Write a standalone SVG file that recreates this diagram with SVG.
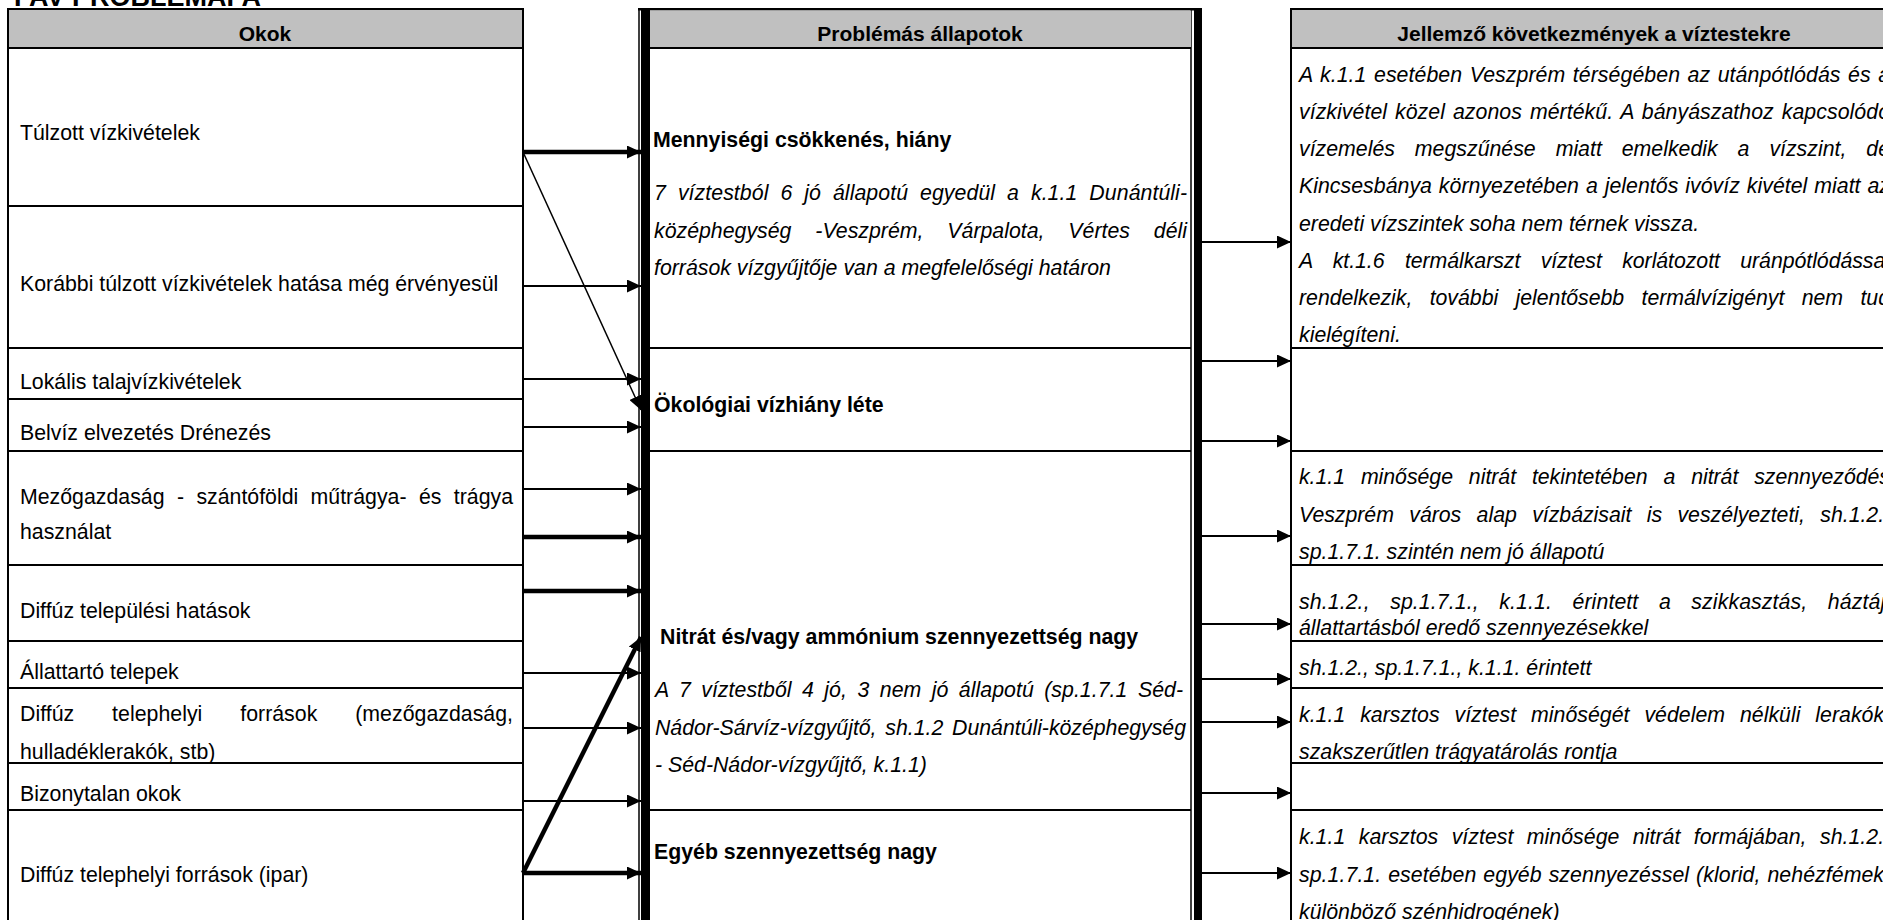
<svg xmlns="http://www.w3.org/2000/svg" width="1883" height="920" viewBox="0 0 1883 920">
<style>
.t{font-family:"Liberation Sans",Arial,sans-serif;font-size:21.3px;fill:#000}
.b{font-weight:bold}
.i{font-style:italic}
.h{font-weight:bold;text-anchor:middle;font-size:21px}
.cell{fill:none;stroke:#000;stroke-width:2}
.hdr{fill:#c0c0c0;stroke:#000;stroke-width:2}
.thin{stroke:#000;stroke-width:2;fill:none}
.thick{stroke:#000;stroke-width:4.5;fill:none}
.hair{stroke:#000;stroke-width:1.5;fill:none}
</style>
<defs>
<marker id="ah" markerUnits="userSpaceOnUse" markerWidth="14" markerHeight="13" viewBox="0 0 14 13" refX="14" refY="6.5" orient="auto">
<path d="M0,0 L14,6.5 L0,13 z" fill="#000"/>
</marker>
</defs>
<rect width="1883" height="920" fill="#fff"/>
<text class="t b" x="14" y="6" style="font-size:27px">FAV PROBLÉMAFA</text>

<!-- Left column: causes -->
<g id="causes-header">
<rect class="hdr" x="8" y="9" width="515" height="39"/>
<text class="t h" x="265" y="41">Okok</text>
</g>
<g id="c1"><rect class="cell" x="8" y="48" width="515" height="158"/><text class="t" x="20" y="140">Túlzott vízkivételek</text></g>
<g id="c2"><rect class="cell" x="8" y="206" width="515" height="142"/><text class="t" x="20" y="291">Korábbi túlzott vízkivételek hatása még érvényesül</text></g>
<g id="c3"><rect class="cell" x="8" y="348" width="515" height="51"/><text class="t" x="20" y="389">Lokális talajvízkivételek</text></g>
<g id="c4"><rect class="cell" x="8" y="399" width="515" height="52"/><text class="t" x="20" y="440">Belvíz elvezetés Drénezés</text></g>
<g id="c5"><rect class="cell" x="8" y="451" width="515" height="114"/>
<text class="t" x="20" y="504" textLength="493" lengthAdjust="spacing" style="word-spacing:6.5px">Mezőgazdaság - szántóföldi műtrágya- és trágya</text>
<text class="t" x="20" y="539">használat</text></g>
<g id="c6"><rect class="cell" x="8" y="565" width="515" height="76"/><text class="t" x="20" y="618">Diffúz települési hatások</text></g>
<g id="c7"><rect class="cell" x="8" y="641" width="515" height="47"/><text class="t" x="20" y="679">Állattartó telepek</text></g>
<g id="c8"><rect class="cell" x="8" y="688" width="515" height="75"/>
<text class="t" x="20" y="721" textLength="493" lengthAdjust="spacing" style="word-spacing:32px">Diffúz telephelyi források (mezőgazdaság,</text>
<text class="t" x="20" y="759">hulladéklerakók, stb)</text></g>
<g id="c9"><rect class="cell" x="8" y="763" width="515" height="47"/><text class="t" x="20" y="801">Bizonytalan okok</text></g>
<g id="c10"><rect class="cell" x="8" y="810" width="515" height="130"/><text class="t" x="20" y="882">Diffúz telephelyi források (ipar)</text></g>

<!-- Center column: problem states -->
<g id="states-frame">
<line class="hair" x1="639" y1="8" x2="639" y2="920"/>
<rect x="641" y="8" width="9" height="912" fill="#000"/>
<line class="hair" x1="1191" y1="8" x2="1191" y2="920"/>
<rect x="1194" y="8" width="8" height="912" fill="#000"/>
<line x1="638" y1="9.2" x2="1202" y2="9.2" stroke="#000" stroke-width="2.5"/>
</g>
<g id="states-header">
<rect x="650" y="10.5" width="541" height="37" fill="#c0c0c0"/>
<line class="thin" x1="650" y1="48" x2="1191" y2="48"/>
<text class="t h" x="920" y="41">Problémás állapotok</text>
</g>
<g id="s1">
<text class="t b" x="653" y="147">Mennyiségi csökkenés, hiány</text>
<text class="t i" x="654" y="200" textLength="533" lengthAdjust="spacing" style="word-spacing:6px">7 víztestból 6 jó állapotú egyedül a k.1.1 Dunántúli-</text>
<text class="t i" x="654" y="238" textLength="533" lengthAdjust="spacing" style="word-spacing:18px">középhegység -Veszprém, Várpalota, Vértes déli</text>
<text class="t i" x="654" y="275">források vízgyűjtője van a megfelelőségi határon</text>
<line class="thin" x1="650" y1="348" x2="1191" y2="348"/>
</g>
<g id="s2">
<text class="t b" x="654" y="412">Ökológiai vízhiány léte</text>
<line class="thin" x1="650" y1="451" x2="1191" y2="451"/>
</g>
<g id="s3">
<text class="t b" x="660" y="644">Nitrát és/vagy ammónium szennyezettség nagy</text>
<text class="t i" x="655" y="697" textLength="528" lengthAdjust="spacing" style="word-spacing:4.5px">A 7 víztestből 4 jó, 3 nem jó állapotú (sp.1.7.1 Séd-</text>
<text class="t i" x="655" y="735" textLength="531" lengthAdjust="spacing" style="word-spacing:3px">Nádor-Sárvíz-vízgyűjtő, sh.1.2 Dunántúli-középhegység</text>
<text class="t i" x="655" y="772">- Séd-Nádor-vízgyűjtő, k.1.1)</text>
<line class="thin" x1="650" y1="810" x2="1191" y2="810"/>
</g>
<g id="s4">
<text class="t b" x="654" y="859">Egyéb szennyezettség nagy</text>
</g>

<!-- Right column: consequences -->
<g id="effects-header">
<rect class="hdr" x="1291" y="9" width="620" height="39"/>
<text class="t h" x="1594" y="41">Jellemző következmények a víztestekre</text>
</g>
<g id="r1"><rect class="cell" x="1291" y="48" width="620" height="300"/>
<text class="t i" x="1299" y="82" textLength="591" lengthAdjust="spacing" style="word-spacing:1.5px">A k.1.1 esetében Veszprém térségében az utánpótlódás és a</text>
<text class="t i" x="1299" y="119" textLength="591" lengthAdjust="spacing" style="word-spacing:2px">vízkivétel közel azonos mértékű. A bányászathoz kapcsolódó</text>
<text class="t i" x="1299" y="156" textLength="591" lengthAdjust="spacing" style="word-spacing:14px">vízemelés megszűnése miatt emelkedik a vízszint, de</text>
<text class="t i" x="1299" y="193" textLength="591" lengthAdjust="spacing" style="word-spacing:1px">Kincsesbánya környezetében a jelentős ivóvíz kivétel miatt az</text>
<text class="t i" x="1299" y="231">eredeti vízszintek soha nem térnek vissza.</text>
<text class="t i" x="1299" y="268" textLength="591" lengthAdjust="spacing" style="word-spacing:14.5px">A kt.1.6 termálkarszt víztest korlátozott uránpótlódással</text>
<text class="t i" x="1299" y="305" textLength="591" lengthAdjust="spacing" style="word-spacing:11.5px">rendelkezik, további jelentősebb termálvízigényt nem tud</text>
<text class="t i" x="1299" y="342">kielégíteni.</text>
</g>
<g id="r2"><rect class="cell" x="1291" y="348" width="620" height="103"/></g>
<g id="r3"><rect class="cell" x="1291" y="451" width="620" height="114"/>
<text class="t i" x="1299" y="484" textLength="591" lengthAdjust="spacing" style="word-spacing:10px">k.1.1 minősége nitrát tekintetében a nitrát szennyeződés</text>
<text class="t i" x="1299" y="522" textLength="591" lengthAdjust="spacing" style="word-spacing:9.5px">Veszprém város alap vízbázisait is veszélyezteti, sh.1.2.,</text>
<text class="t i" x="1299" y="559">sp.1.7.1. szintén nem jó állapotú</text>
</g>
<g id="r4"><rect class="cell" x="1291" y="565" width="620" height="76"/>
<text class="t i" x="1299" y="609" textLength="591" lengthAdjust="spacing" style="word-spacing:14.5px">sh.1.2., sp.1.7.1., k.1.1. érintett a szikkasztás, háztáji</text>
<text class="t i" x="1299" y="635">állattartásból eredő szennyezésekkel</text>
</g>
<g id="r5"><rect class="cell" x="1291" y="641" width="620" height="47"/>
<text class="t i" x="1299" y="675">sh.1.2., sp.1.7.1., k.1.1. érintett</text>
</g>
<g id="r6"><rect class="cell" x="1291" y="688" width="620" height="75"/>
<text class="t i" x="1299" y="722" textLength="591" lengthAdjust="spacing" style="word-spacing:9px">k.1.1 karsztos víztest minőségét védelem nélküli lerakók,</text>
<text class="t i" x="1299" y="759">szakszerűtlen trágyatárolás rontja</text>
</g>
<g id="r7"><rect class="cell" x="1291" y="763" width="620" height="47"/></g>
<g id="r8"><rect class="cell" x="1291" y="810" width="620" height="130"/>
<text class="t i" x="1299" y="844" textLength="591" lengthAdjust="spacing" style="word-spacing:7.5px">k.1.1 karsztos víztest minősége nitrát formájában, sh.1.2.,</text>
<text class="t i" x="1299" y="882" textLength="591" lengthAdjust="spacing" style="word-spacing:1px">sp.1.7.1. esetében egyéb szennyezéssel (klorid, nehézfémek,</text>
<text class="t i" x="1299" y="919">különböző szénhidrogének)</text>
</g>

<!-- Connectors -->
<g id="connectors">
<line class="thick" x1="523" y1="152" x2="641" y2="152" marker-end="url(#ah)"/>
<line class="hair" x1="523" y1="152" x2="641" y2="410" marker-end="url(#ah)"/>
<line class="thin" x1="523" y1="286" x2="641" y2="286" marker-end="url(#ah)"/>
<line class="thin" x1="523" y1="379" x2="641" y2="379" marker-end="url(#ah)"/>
<line class="thin" x1="523" y1="427" x2="641" y2="427" marker-end="url(#ah)"/>
<line class="thin" x1="523" y1="489" x2="641" y2="489" marker-end="url(#ah)"/>
<line class="thick" x1="523" y1="537" x2="641" y2="537" marker-end="url(#ah)"/>
<line class="thick" x1="523" y1="591" x2="641" y2="591" marker-end="url(#ah)"/>
<line class="thin" x1="523" y1="673" x2="641" y2="673" marker-end="url(#ah)"/>
<line class="thin" x1="523" y1="728" x2="641" y2="728" marker-end="url(#ah)"/>
<line class="thin" x1="523" y1="801" x2="641" y2="801" marker-end="url(#ah)"/>
<line class="thick" x1="523" y1="873" x2="641" y2="873" marker-end="url(#ah)"/>
<line class="thick" x1="523" y1="873" x2="641" y2="637" marker-end="url(#ah)"/>
<line class="thin" x1="1202" y1="242" x2="1291" y2="242" marker-end="url(#ah)"/>
<line class="thin" x1="1202" y1="361" x2="1291" y2="361" marker-end="url(#ah)"/>
<line class="thin" x1="1202" y1="441" x2="1291" y2="441" marker-end="url(#ah)"/>
<line class="thin" x1="1202" y1="536" x2="1291" y2="536" marker-end="url(#ah)"/>
<line class="thin" x1="1202" y1="624" x2="1291" y2="624" marker-end="url(#ah)"/>
<line class="thin" x1="1202" y1="679" x2="1291" y2="679" marker-end="url(#ah)"/>
<line class="thin" x1="1202" y1="722" x2="1291" y2="722" marker-end="url(#ah)"/>
<line class="thin" x1="1202" y1="793" x2="1291" y2="793" marker-end="url(#ah)"/>
<line class="thin" x1="1202" y1="873" x2="1291" y2="873" marker-end="url(#ah)"/>
</g>
</svg>
